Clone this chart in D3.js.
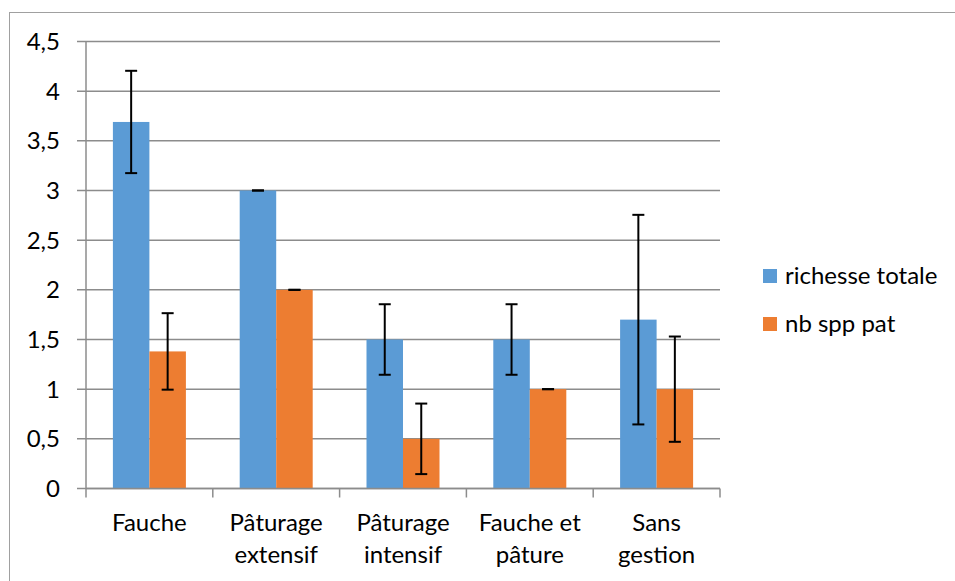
<html>
<head>
<title>Richesse</title>
<style type="text/css">
  body{ margin:0px; padding:0px; background:#fff; }
  svg{ font-family: Lato, "Open Sans", sans-serif; }
</style>
<script src="https://cdnjs.cloudflare.com/ajax/libs/d3/7.8.5/d3.min.js"></script>
<script type="text/javascript">
categories = [["Fauche"], ["Pâturage", "extensif"], ["Pâturage", "intensif"], ["Fauche et", "pâture"], ["Sans", "gestion"]];
seriesNames = ["richesse totale", "nb spp pat"];
colors = ["#5B9BD5", "#ED7D31"];
richesse = [3.69, 3.0, 1.5, 1.5, 1.7];
richesseErr = [0.515, 0, 0.355, 0.355, 1.055];
nbspp = [1.38, 2.0, 0.5, 1.0, 1.0];
nbsppErr = [0.385, 0, 0.355, 0, 0.53];
yTicks = [0, 0.5, 1, 1.5, 2, 2.5, 3, 3.5, 4, 4.5];

window.onload = function(){
  var svg = d3.select("body").append("svg").attr("width", 955).attr("height", 581);

  // chart frame
  svg.append("rect").attr("x", 9.5).attr("y", 12.5).attr("width", 960).attr("height", 600)
     .attr("fill", "none").attr("stroke", "#a0a0a0").attr("stroke-width", 1);

  var left = 86, right = 720, top = 41.5, bottom = 488.5;
  var y = d3.scaleLinear().domain([0, 4.5]).range([bottom, top]);
  var x = d3.scaleBand().domain(d3.range(categories.length)).range([left, right]);
  var barW = 36.5;

  // gridlines + y ticks
  var g = svg.append("g");
  g.selectAll("line.grid").data(yTicks).enter().append("line")
    .attr("x1", left - 9).attr("x2", right)
    .attr("y1", function(d){ return y(d); }).attr("y2", function(d){ return y(d); })
    .attr("stroke", "#8c8c8c").attr("stroke-width", 1.5);
  g.selectAll("text.yl").data(yTicks).enter().append("text")
    .attr("x", 60).attr("y", function(d){ return y(d); }).attr("dy", "0.36em")
    .attr("text-anchor", "end").attr("font-size", 24).attr("fill", "#000")
    .text(function(d){ return String(d).replace(".", ","); });

  // y axis line
  svg.append("line").attr("x1", left).attr("x2", left).attr("y1", top).attr("y2", bottom)
     .attr("stroke", "#8c8c8c").attr("stroke-width", 1.5);

  // bars
  var series = [{v: richesse, e: richesseErr}, {v: nbspp, e: nbsppErr}];
  series.forEach(function(s, si){
    var c = x.bandwidth() / 2;
    svg.selectAll("rect.b" + si).data(s.v).enter().append("rect")
      .attr("x", function(d, i){ return x(i) + c - barW + si * barW; })
      .attr("y", function(d){ return y(d); })
      .attr("width", barW).attr("height", function(d){ return bottom - y(d); })
      .attr("fill", colors[si]);
  });

  // x axis line + ticks
  svg.append("line").attr("x1", left).attr("x2", right).attr("y1", bottom).attr("y2", bottom)
     .attr("stroke", "#8c8c8c").attr("stroke-width", 1.5);
  var xt = d3.range(categories.length + 1).map(function(i){ return left + i * x.bandwidth(); });
  svg.selectAll("line.xt").data(xt).enter().append("line")
    .attr("x1", function(d){ return d; }).attr("x2", function(d){ return d; })
    .attr("y1", bottom).attr("y2", bottom + 9)
    .attr("stroke", "#8c8c8c").attr("stroke-width", 1.5);

  // error bars
  series.forEach(function(s, si){
    var c = x.bandwidth() / 2;
    s.v.forEach(function(d, i){
      var cx = x(i) + c - barW / 2 + si * barW;
      var lo = y(d - s.e[i]), hi = y(d + s.e[i]);
      var eb = svg.append("g").attr("stroke", "#000").attr("stroke-width", 2);
      eb.append("line").attr("x1", cx).attr("x2", cx).attr("y1", lo).attr("y2", hi);
      eb.append("line").attr("x1", cx - 6).attr("x2", cx + 6).attr("y1", lo).attr("y2", lo);
      eb.append("line").attr("x1", cx - 6).attr("x2", cx + 6).attr("y1", hi).attr("y2", hi);
    });
  });

  // category labels
  categories.forEach(function(lines, i){
    var t = svg.append("text").attr("text-anchor", "middle").attr("font-size", 24).attr("fill", "#000");
    lines.forEach(function(l, j){
      t.append("tspan").attr("x", x(i) + x.bandwidth() / 2).attr("y", 531 + j * 32).text(l);
    });
  });

  // legend
  var lg = svg.selectAll("g.lg").data(seriesNames).enter().append("g")
    .attr("transform", function(d, i){ return "translate(763," + (276 + i * 48) + ")"; });
  lg.append("rect").attr("x", 0).attr("y", -7).attr("width", 14).attr("height", 14)
    .attr("fill", function(d, i){ return colors[i]; });
  lg.append("text").attr("x", 22).attr("dy", "0.35em").attr("font-size", 24).attr("fill", "#000")
    .text(function(d){ return d; });
}
</script>
</head>
<body>
</body>
</html>
